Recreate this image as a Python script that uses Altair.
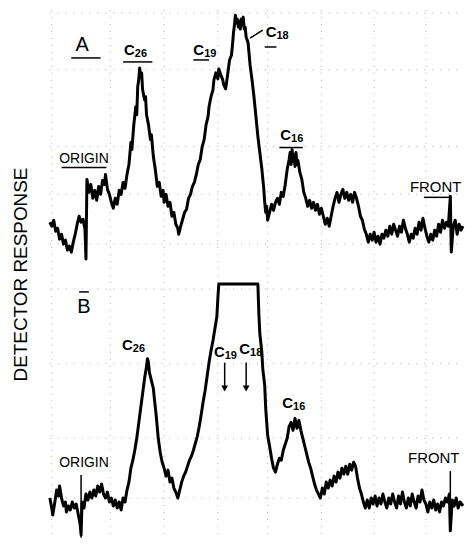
import altair as alt
import pandas as pd

# ---- Panel A trace (migration distance, detector response) ----
a_dist = [0, 2, 4, 6, 8, 10, 12, 14, 16, 18, 20, 22, 24, 26, 28, 30, 32, 34, 36, 37, 38, 40, 42, 44, 46, 48,
          50, 52, 54, 56, 57, 59, 61, 63, 65, 67, 69, 71, 73, 75, 77, 79, 81, 83, 84, 86, 88, 89, 90, 91, 92,
          93, 94, 95, 97, 98, 99, 101, 103, 104, 106, 108, 110, 112, 114, 116, 117, 119, 121, 123, 125, 127,
          129, 131, 132, 134, 136, 138, 140, 142, 144, 146, 148, 150, 152, 154, 156, 158, 160, 162, 163, 165,
          167, 168, 170, 172, 173, 175, 177, 178, 180, 182, 184, 186, 187, 188, 189, 190, 191, 192, 193, 194,
          195, 196, 197, 198, 199, 200, 201, 203, 205, 207, 209, 211, 213, 215, 217, 219, 220, 221, 222, 223,
          225, 227, 229, 231, 233, 235, 237, 239, 241, 243, 245, 246, 247, 248, 249, 250, 251, 252, 253, 254,
          256, 258, 260, 262, 264, 266, 268, 270, 272, 274, 276, 278, 280, 282, 284, 286, 288, 290, 292, 294,
          296, 298, 300, 302, 304, 306, 308, 310, 312, 314, 316, 318, 320, 322, 324, 326, 328, 330, 332, 334,
          336, 338, 340, 342, 344, 346, 348, 350, 352, 354, 356, 358, 360, 362, 364, 366, 368, 370, 372, 374,
          376, 378, 380, 382, 384, 386, 388, 390, 392, 394, 396, 398, 400, 402, 404, 406, 408, 410, 411, 413,
          415, 417, 419, 421, 423]
a_resp = [42, 38, 44, 33, 36, 25, 30, 20, 24, 14, 18, 12, 22, 30, 40, 48, 42, 45, 35, 5, 85, 72, 80, 66, 74, 64,
          78, 70, 84, 80, 90, 75, 70, 62, 56, 66, 60, 74, 70, 82, 76, 90, 100, 122, 115, 140, 158, 150, 178, 185, 197,
          188, 192, 175, 165, 168, 150, 140, 125, 130, 108, 95, 78, 82, 68, 74, 62, 70, 58, 62, 48, 52,
          40, 36, 30, 38, 45, 52, 55, 66, 70, 78, 82, 90, 100, 105, 118, 125, 140, 148, 158, 168,
          175, 185, 192, 186, 196, 190, 185, 180, 176, 190, 205, 210, 220, 232, 240, 250, 242, 246, 238, 244,
          236, 246, 240, 248, 236, 238, 228, 222, 200, 185, 168, 148, 128, 112, 96, 76, 62, 52, 58, 44,
          52, 60, 54, 62, 66, 60, 72, 68, 80, 95, 105, 112, 100, 115, 103, 110, 98, 112, 100, 104,
          92, 85, 72, 66, 58, 64, 56, 62, 54, 60, 50, 56, 48, 40, 46, 38, 48, 58, 66, 72,
          62, 70, 75, 66, 72, 64, 70, 62, 72, 66, 58, 48, 44, 35, 30, 22, 30, 24, 32, 22,
          28, 20, 30, 26, 34, 28, 38, 30, 40, 34, 28, 38, 32, 44, 36, 30, 22, 30, 26, 36,
          30, 42, 34, 46, 36, 28, 22, 30, 24, 34, 28, 40, 32, 44, 36, 42, 38, 68, 12, 38,
          44, 30, 40, 34, 38]

# ---- Panel B trace ----
b_dist = [0, 2, 3, 5, 7, 9, 10, 12, 14, 16, 17, 19, 21, 23, 25, 27, 29, 31, 32, 33, 35, 37, 39, 41, 43, 45,
          47, 49, 51, 53, 55, 57, 59, 61, 63, 65, 67, 69, 71, 73, 75, 77, 79, 81, 83, 85, 87, 89, 91, 93, 95,
          97, 99, 100, 101, 102, 104, 106, 107, 109, 111, 113, 115, 117, 119, 121, 123, 125, 127, 129, 131,
          133, 135, 137, 139, 141, 143, 145, 147, 149, 151, 153, 155, 157, 159, 161, 163, 165, 167, 169, 171,
          172, 173, 213, 214, 215, 217, 218, 220, 221, 223, 225, 227, 229, 231, 233, 235, 237, 239, 241, 243,
          245, 247, 249, 251, 253, 255, 257, 259, 261, 263, 265, 267, 269, 271, 273, 275, 277, 279, 281, 283,
          285, 287, 289, 291, 293, 295, 297, 299, 301, 303, 305, 307, 309, 311, 313, 315, 317, 319, 321, 323,
          325, 327, 329, 331, 333, 335, 337, 339, 341, 343, 345, 347, 349, 351, 353, 355, 357, 359, 361, 363,
          365, 367, 369, 371, 373, 375, 377, 379, 381, 383, 385, 387, 389, 391, 393, 395, 397, 399, 401, 403,
          405, 407, 409, 410, 412, 414, 416, 418, 420, 423]
b_resp = [40, 30, 23, 35, 48, 42, 52, 40, 32, 36, 26, 32, 28, 36, 30, 34, 24, 14, 3, 36, 30, 44, 38, 46, 40, 48,
          42, 52, 46, 54, 44, 40, 46, 36, 40, 32, 38, 30, 36, 28, 40, 36, 48, 56, 70, 78, 88, 100, 115, 130, 145,
          160, 172, 180, 176, 166, 158, 150, 140, 122, 100, 86, 76, 70, 62, 68, 56, 60, 50, 46, 40,
          48, 56, 62, 66, 72, 78, 82, 88, 95, 102, 112, 124, 137, 148, 162, 176, 188, 198, 210, 222,
          240, 255, 255, 225, 205, 187, 170, 153, 130, 103, 92, 80, 70, 66, 74, 80, 78, 88, 94, 100,
          112, 116, 108, 120, 110, 118, 108, 100, 92, 84, 76, 70, 62, 54, 48, 44, 40, 50, 44, 56,
          50, 58, 52, 62, 56, 66, 60, 70, 64, 72, 64, 74, 68, 76, 72, 60, 50, 44, 36, 30,
          38, 30, 40, 34, 42, 32, 40, 34, 44, 36, 30, 40, 34, 44, 36, 30, 42, 34, 46, 36,
          30, 40, 32, 44, 36, 30, 42, 36, 48, 38, 34, 26, 36, 30, 38, 28, 34, 26, 36, 32,
          40, 36, 44, 7, 38, 32, 40, 30, 36, 32]

# ---- annotations ----
lab_panel = ["A", "A", "A", "A", "B", "B", "B", "B"]
lab_sub = ["26", "19", "18", "16", "26", "19", "18", "16"]
lab_dist = [87, 158, 232, 247, 85, 179, 205, 249]
lab_resp = [215, 215, 233, 130, 194, 187, 190, 135]

word_panel = ["A", "A", "A", "B", "B", "B"]
word_text = ["A", "ORIGIN", "FRONT", "B", "ORIGIN", "FRONT"]
word_dist = [33, 35, 395, 35, 35, 393]
word_resp = [220, 105, 77, 232, 75, 80]
word_size = [20, 14, 15, 20, 14, 15]

rule_panel = ["A", "A", "A", "A", "A", "A", "A", "A", "B", "B", "B", "B", "B"]
rule_d1 = [22, 75, 147, 220, 205, 235, 12, 383, 30, 179, 201, 32, 410]
rule_d2 = [52, 105, 163, 232, 218, 259, 58, 410, 40, 179, 201, 32, 410]
rule_r1 = [207, 203, 205, 218, 227, 117, 97, 67, 247, 176, 176, 63, 67]
rule_r2 = [207, 203, 205, 218, 235, 117, 97, 67, 247, 152, 152, 0, 7]

arrow_dist = [179, 201]
arrow_resp = [150, 150]

grid_x = [2, 62, 117, 172, 223, 278, 332, 385]
grid_y_panel = ["A", "A", "A", "A", "A", "B", "B", "B", "B"]
grid_y = [252, 195, 118, 70, 20, 250, 175, 100, 40]

shift = "(datum.panel == 'A' ? 275 : 0)"

trace = pd.DataFrame({
    "panel": ["A"] * len(a_dist) + ["B"] * len(b_dist),
    "dist": a_dist + b_dist,
    "resp": a_resp + b_resp,
})
labels = pd.DataFrame({"panel": lab_panel, "sub": lab_sub, "dist": lab_dist, "resp": lab_resp})
words = pd.DataFrame({"panel": word_panel, "text": word_text, "dist": word_dist, "resp": word_resp,
                      "size": word_size})
rules = pd.DataFrame({"panel": rule_panel, "d1": rule_d1, "d2": rule_d2, "r1": rule_r1, "r2": rule_r2})
arrows = pd.DataFrame({"panel": ["B", "B"], "dist": arrow_dist, "resp": arrow_resp})
gx = pd.DataFrame({"gx": grid_x})
gy = pd.DataFrame({"panel": grid_y_panel, "resp": grid_y})

xs = alt.Scale(domain=[0, 423], nice=False, zero=False)
ys = alt.Scale(domain=[0, 530], nice=False, zero=False)
yaxis = alt.Axis(title="DETECTOR RESPONSE", labels=False, ticks=False, domain=False, grid=False,
                 titleFontSize=19, titleFont="Liberation Sans", titleFontWeight="normal",
                 titlePadding=19, titleColor="black")


def X(f):
    return alt.X(f, type="quantitative", scale=xs, axis=None)


def Y(f):
    return alt.Y(f, type="quantitative", scale=ys, axis=yaxis)


grid_v = alt.Chart(gx).mark_rule(color="#888", strokeWidth=1, strokeDash=[1, 6], opacity=0.7).encode(
    x=X("gx"), y=alt.value(0), y2=alt.value(530))

grid_h = alt.Chart(gy).transform_calculate(v="datum.resp + " + shift).mark_rule(
    color="#888", strokeWidth=1, strokeDash=[1, 7], opacity=0.7).encode(
    y=Y("v"), x=alt.value(0), x2=alt.value(415))

line = alt.Chart(trace).transform_calculate(v="datum.resp + " + shift).mark_line(
    color="black", strokeWidth=3, strokeJoin="round").encode(
    x=X("dist"), y=Y("v"), detail="panel:N", order="dist:Q")

rule_layer = alt.Chart(rules).transform_calculate(
    v1="datum.r1 + " + shift, v2="datum.r2 + " + shift).mark_rule(color="black", strokeWidth=1.5).encode(
    x=X("d1"), x2="d2", y=Y("v1"), y2="v2")

arrow_heads = alt.Chart(arrows).transform_calculate(v="datum.resp + " + shift).mark_point(
    shape="triangle-down", filled=True, color="black", size=45, opacity=1).encode(
    x=X("dist"), y=Y("v"))

c_main = alt.Chart(labels).transform_calculate(v="datum.resp + " + shift, c="'C'").mark_text(
    font="Liberation Sans", fontWeight="bold", fontSize=15, align="right", baseline="middle",
    color="black").encode(x=X("dist"), y=Y("v"), text="c:N")

c_sub = alt.Chart(labels).transform_calculate(v="datum.resp + " + shift).mark_text(
    font="Liberation Sans", fontWeight="bold", fontSize=11, align="left", baseline="middle",
    dy=4, color="black").encode(x=X("dist"), y=Y("v"), text="sub:N")

word_layer = alt.Chart(words).transform_calculate(v="datum.resp + " + shift).mark_text(
    font="Liberation Sans", align="center", baseline="middle", color="black").encode(
    x=X("dist"), y=Y("v"), text="text:N", size=alt.Size("size:Q", scale=None, legend=None))

chart = alt.layer(grid_v, grid_h, line, rule_layer, arrow_heads, c_main, c_sub, word_layer).properties(
    width=415, height=530, padding={"left": 4, "top": 0, "right": 0, "bottom": 0}, background="white"
).configure_view(stroke=None)

chart.save("out.html", embed_options={"renderer": "svg", "actions": False})
